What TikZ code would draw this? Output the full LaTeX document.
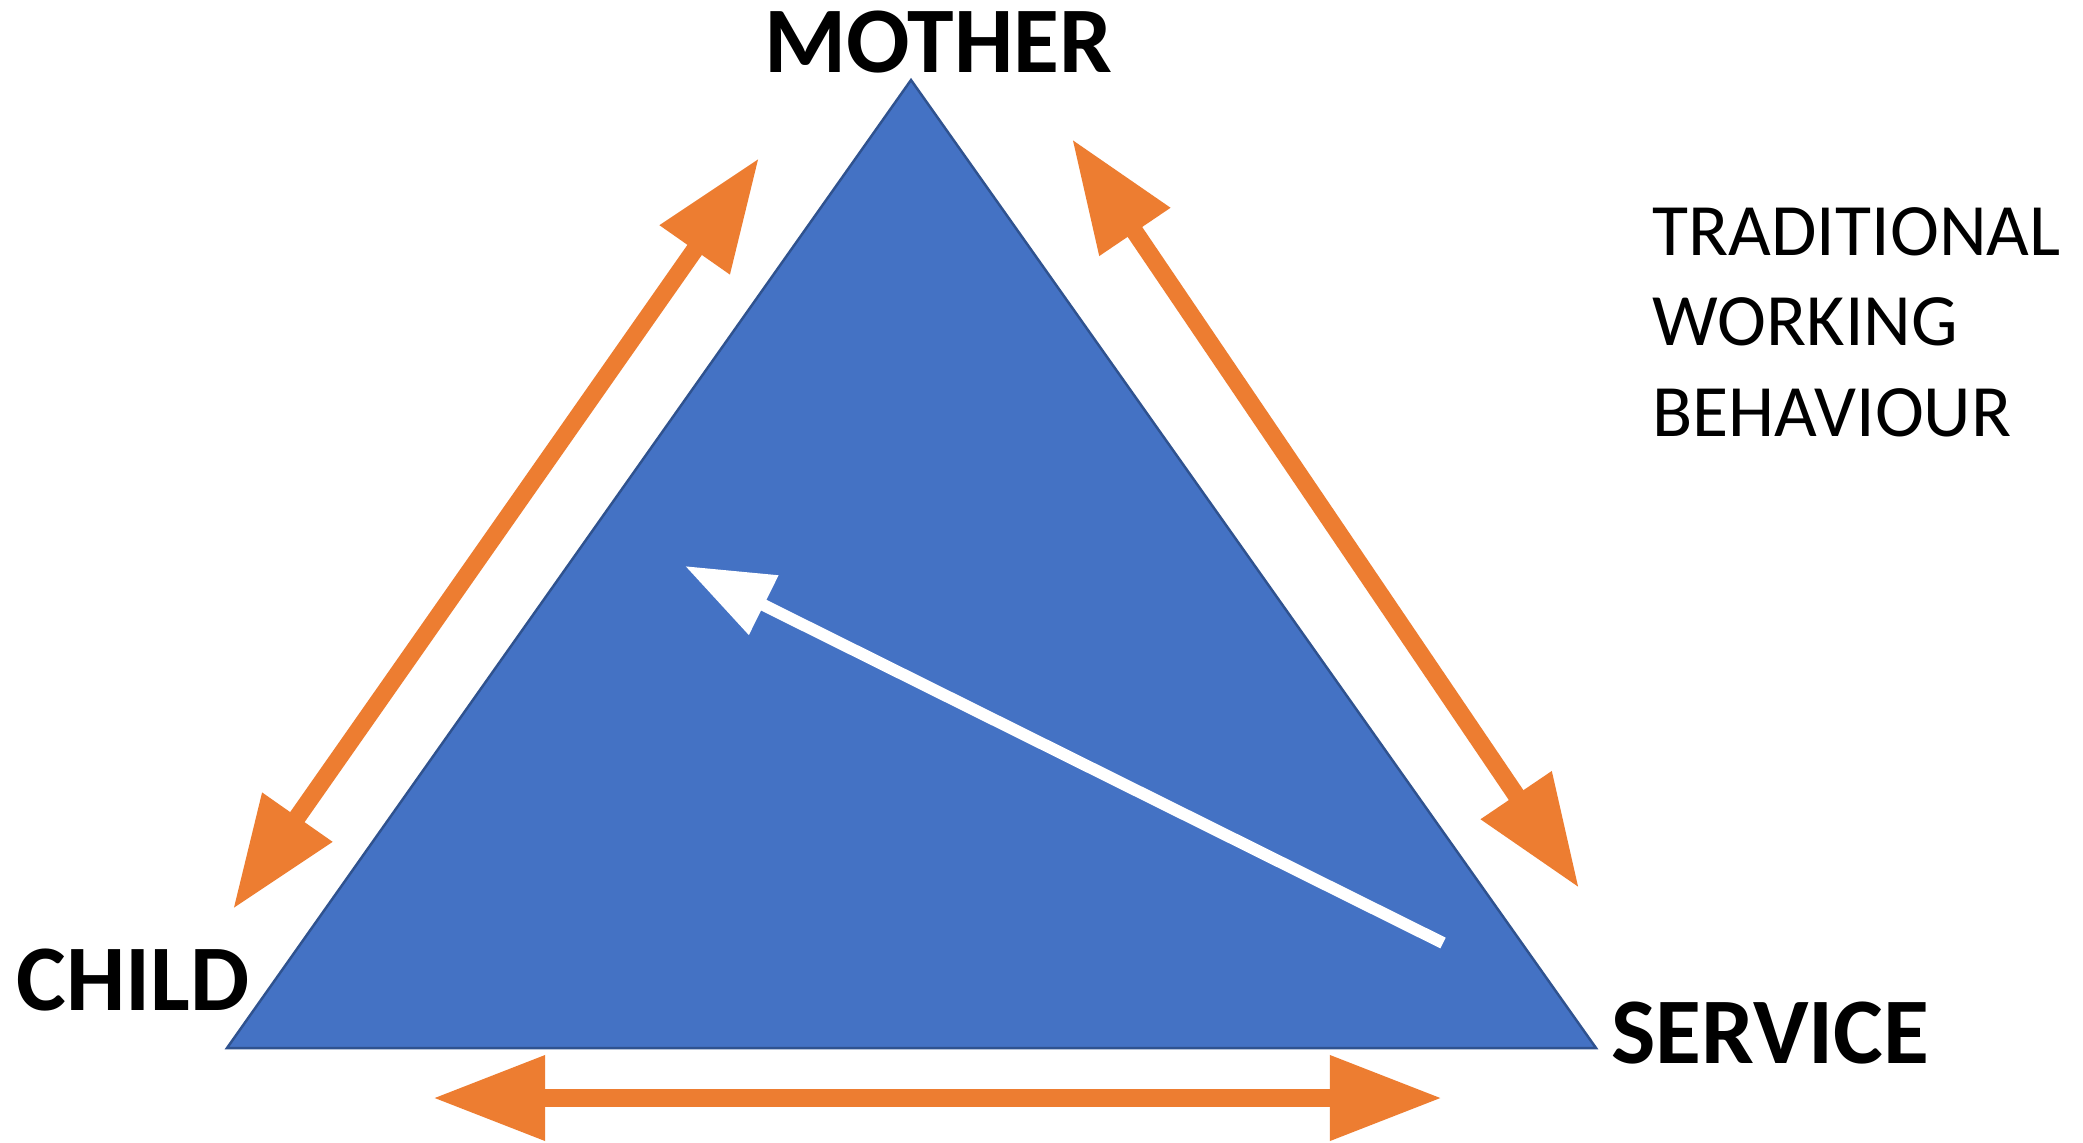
\documentclass[tikz,border=0pt]{standalone}
\usepackage{fontspec}
\setmainfont{Carlito}
\usetikzlibrary{arrows.meta}
\definecolor{triblue}{HTML}{4472C4}
\definecolor{triedge}{HTML}{2F528F}
\definecolor{arrorange}{HTML}{ED7D31}
\begin{document}
\begin{tikzpicture}[x=0.01cm,y=-0.01cm,
  vlabel/.style={font=\fontsize{26.7pt}{30pt}\selectfont\bfseries, inner sep=0pt, anchor=base},
  note/.style={font=\fontsize{21pt}{25pt}\selectfont, inner sep=0pt, anchor=base west},
  biarrow/.style={draw=arrorange, line width=5pt, {Triangle[length=31.9pt,width=23pt]}-{Triangle[length=31.9pt,width=23pt]}},
  whitearrow/.style={draw=white, line width=3.4pt, -{Triangle[length=25pt,width=18pt]}}]
\useasboundingbox (0,0) rectangle (2083,1142);
\fill[white] (0,0) rectangle (2083,1142);
% triangle
\coordinate (apex) at (911,80);
\coordinate (bl) at (227,1048);
\coordinate (br) at (1596,1048);
\filldraw[fill=triblue, draw=triedge, line width=0.7pt, line join=miter] (apex) -- (bl) -- (br) -- cycle;
% labels
\node[vlabel] (mother) at (938,72) {MOTHER};
\node[vlabel] (child) at (133,1010) {CHILD};
\node[vlabel] (service) at (1770,1063) {SERVICE};
\node[note] (n1) at (1652,255) {TRADITIONAL};
\node[note] (n2) at (1652,345) {WORKING};
\node[note] (n3) at (1652,436) {BEHAVIOUR};
% arrow end points
\coordinate (lA) at (233,909);
\coordinate (lB) at (759,158);
\coordinate (rA) at (1072,139);
\coordinate (rB) at (1579,888);
\coordinate (bA) at (433,1098);
\coordinate (bB) at (1442,1098);
\coordinate (wTail) at (1443,943);
\coordinate (wTip) at (685,566);
\draw[biarrow] (lA) -- (lB);
\draw[biarrow] (rA) -- (rB);
\draw[biarrow] (bA) -- (bB);
\draw[whitearrow] (wTail) -- (wTip);
\end{tikzpicture}
\end{document}
